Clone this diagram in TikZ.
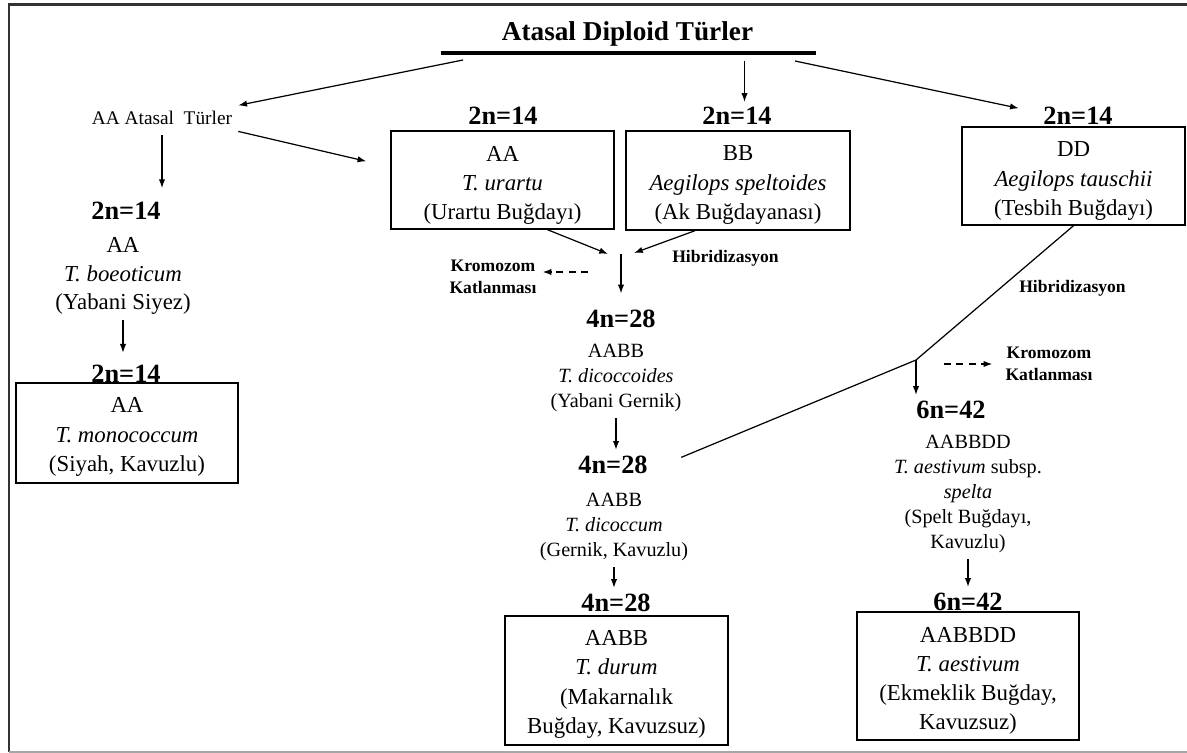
\documentclass[tikz,border=0pt]{standalone}
\usepackage{fontspec}
\setmainfont{Liberation Serif}
\usetikzlibrary{arrows.meta,calc}

\begin{document}
\begin{tikzpicture}[x=0.02cm,y=-0.02cm,
    arr/.style={line width=0.7pt,-{Latex[length=5pt,width=3.6pt]}},
    dasharr/.style={arr,dash pattern=on 4pt off 3pt},
    lnk/.style={line width=0.7pt},
    ploidy/.style={font=\fontsize{15}{18}\selectfont\bfseries,inner sep=3pt,anchor=base},
    info/.style={align=center,font=\fontsize{11.5}{14.2}\selectfont},
    bigtxt/.style={align=center,font=\fontsize{13}{16}\selectfont},
    spbox/.style={draw,line width=0.8pt,minimum width=4.46cm,inner sep=0pt},
    boxtxt/.style={align=center,font=\fontsize{13}{16.6}\selectfont,inner sep=0pt},
    note/.style={align=center,font=\fontsize{10}{12.5}\selectfont\bfseries}]
  \useasboundingbox (0,0) rectangle (1187,753);

  % frame
  \draw[line width=1.2pt,black!80] (9,752) -- (9,4.5) -- (1187,4.5);
  \draw[line width=1pt,black!35] (9,752) -- (1187,752);

  % title and bar
  \node[font=\fontsize{15.5}{18}\selectfont\bfseries,anchor=base] (title) at (627.5,41) {Atasal Diploid Türler};
  \coordinate (barL) at (441,52.7);
  \coordinate (barR) at (816,52.7);
  \draw[line width=2.3pt] (barL) -- (barR);
  \coordinate (b1) at (463,60);
  \coordinate (b2) at (744.5,61);
  \coordinate (b3) at (795,61);

  % left column
  \node[font=\fontsize{11}{13}\selectfont,anchor=base] (atasal) at (162,125) {AA Atasal~ Türler};
  \node[ploidy] (boeoN) at (126,220) {2n=14};
  \node[bigtxt] (boeo) at (123,276) {AA\\\textit{T. boeoticum}\\(Yabani Siyez)};
  \node[ploidy] (monoN) at (126,382) {2n=14};
  \node[spbox,minimum width=4.44cm,minimum height=2cm] (mono) at (127,433) {};
  \node[boxtxt] (monoT) at (127,437) {AA\\\textit{T. monococcum}\\(Siyah, Kavuzlu)};

  % diploid boxes
  \node[ploidy] (urN) at (503,125) {2n=14};
  \node[spbox,minimum height=1.96cm] (urartu) at (502.5,180) {};
  \node[boxtxt] (urartuT) at (502.5,185.5) {AA\\\textit{T. urartu}\\(Urartu Buğdayı)};
  \node[ploidy] (bbN) at (737,125) {2n=14};
  \node[spbox,minimum width=4.48cm,minimum height=1.98cm] (spelt) at (738,180.5) {};
  \node[boxtxt] (speltT) at (738,185) {BB\\\textit{Aegilops speltoides}\\(Ak Buğdayanası)};
  \node[ploidy] (ddN) at (1078,125) {2n=14};
  \node[spbox,minimum height=1.96cm] (tau) at (1073.5,176) {};
  \node[boxtxt] (tauT) at (1073.5,181) {DD\\\textit{Aegilops tauschii}\\(Tesbih Buğdayı)};

  % tetraploid column
  \coordinate (hyb) at (621,254);
  \coordinate (kd1) at (588,272);
  \node[note] (hyb1) at (725.5,258) {Hibridizasyon};
  \node[note] (kat1) at (493,277) {Kromozom\\Katlanması};
  \node[ploidy] (tetA) at (621,328) {4n=28};
  \node[info] (dcs) at (616,378) {AABB\\\textit{T. dicoccoides}\\(Yabani Gernik)};
  \node[ploidy] (tetB) at (613,473) {4n=28};
  \node[info] (dcm) at (614,527) {AABB\\\textit{T. dicoccum}\\(Gernik, Kavuzlu)};
  \node[ploidy] (tetC) at (616,611) {4n=28};
  \node[spbox,minimum height=2.58cm] (durum) at (616.5,680.5) {};
  \node[boxtxt] (durumT) at (616.5,684.5) {AABB\\\textit{T. durum}\\(Makarnalık\\Buğday, Kavuzsuz)};

  % hexaploid column
  \coordinate (jn) at (916,360);
  \coordinate (kd2) at (944,364);
  \node[note] (hyb2) at (1072.5,288) {Hibridizasyon};
  \node[note] (kat2) at (1049,364) {Kromozom\\Katlanması};
  \node[ploidy] (hexA) at (951,418) {6n=42};
  \node[info] (spl) at (968,494)
       {AABBDD\\\textit{T. aestivum} subsp.\\\textit{spelta}\\(Spelt Buğdayı,\\Kavuzlu)};
  \node[ploidy] (hexB) at (968,610) {6n=42};
  \node[spbox,minimum width=4.44cm,minimum height=2.56cm] (aest) at (968,676) {};
  \node[boxtxt] (aestT) at (968,681) {AABBDD\\\textit{T. aestivum}\\(Ekmeklik Buğday,\\Kavuzsuz)};

  % connectors
  \draw[arr] (b1) -- (atasal.north east);
  \draw[arr] (b2) -- (b2 |- bbN.north);
  \draw[arr] (b3) -- ($(ddN.west)+(-19,-8)$);
  \draw[arr,shorten <=2pt,shorten >=5pt] (atasal.south) -- (atasal.south |- boeoN.north);
  \draw[arr] (atasal.south east) -- ($(urartu.north west)+(-24,31)$);
  \draw[arr,shorten >=3.5pt] (boeo.south) -- (boeo.south |- monoN.north);
  \draw[arr] ([xshift=0.9cm]urartu.south) -- ($(hyb)+(-13,0)$);
  \draw[arr] ([xshift=-0.86cm]spelt.south) -- ($(hyb)+(13,-1)$);
  \draw[arr,shorten >=6.5pt] (hyb) -- (hyb |- tetA.north);
  \draw[dasharr] (kd1) -- (kd1 -| kat1.east);
  \draw[arr] (dcs.south) -- (dcs.south |- tetB.north);
  \draw[lnk] (tau.south) -- (jn) -- ($(tetB.east)+(28,-7)$);
  \draw[arr] (jn) -- (jn |- hexA.north);
  \draw[dasharr,shorten >=4pt] (kd2) -- (kd2 -| kat2.west);
  \draw[arr] (dcm.south) -- (dcm.south |- tetC.north);
  \draw[arr] (spl.south) -- (spl.south |- hexB.north);
\end{tikzpicture}
\end{document}
